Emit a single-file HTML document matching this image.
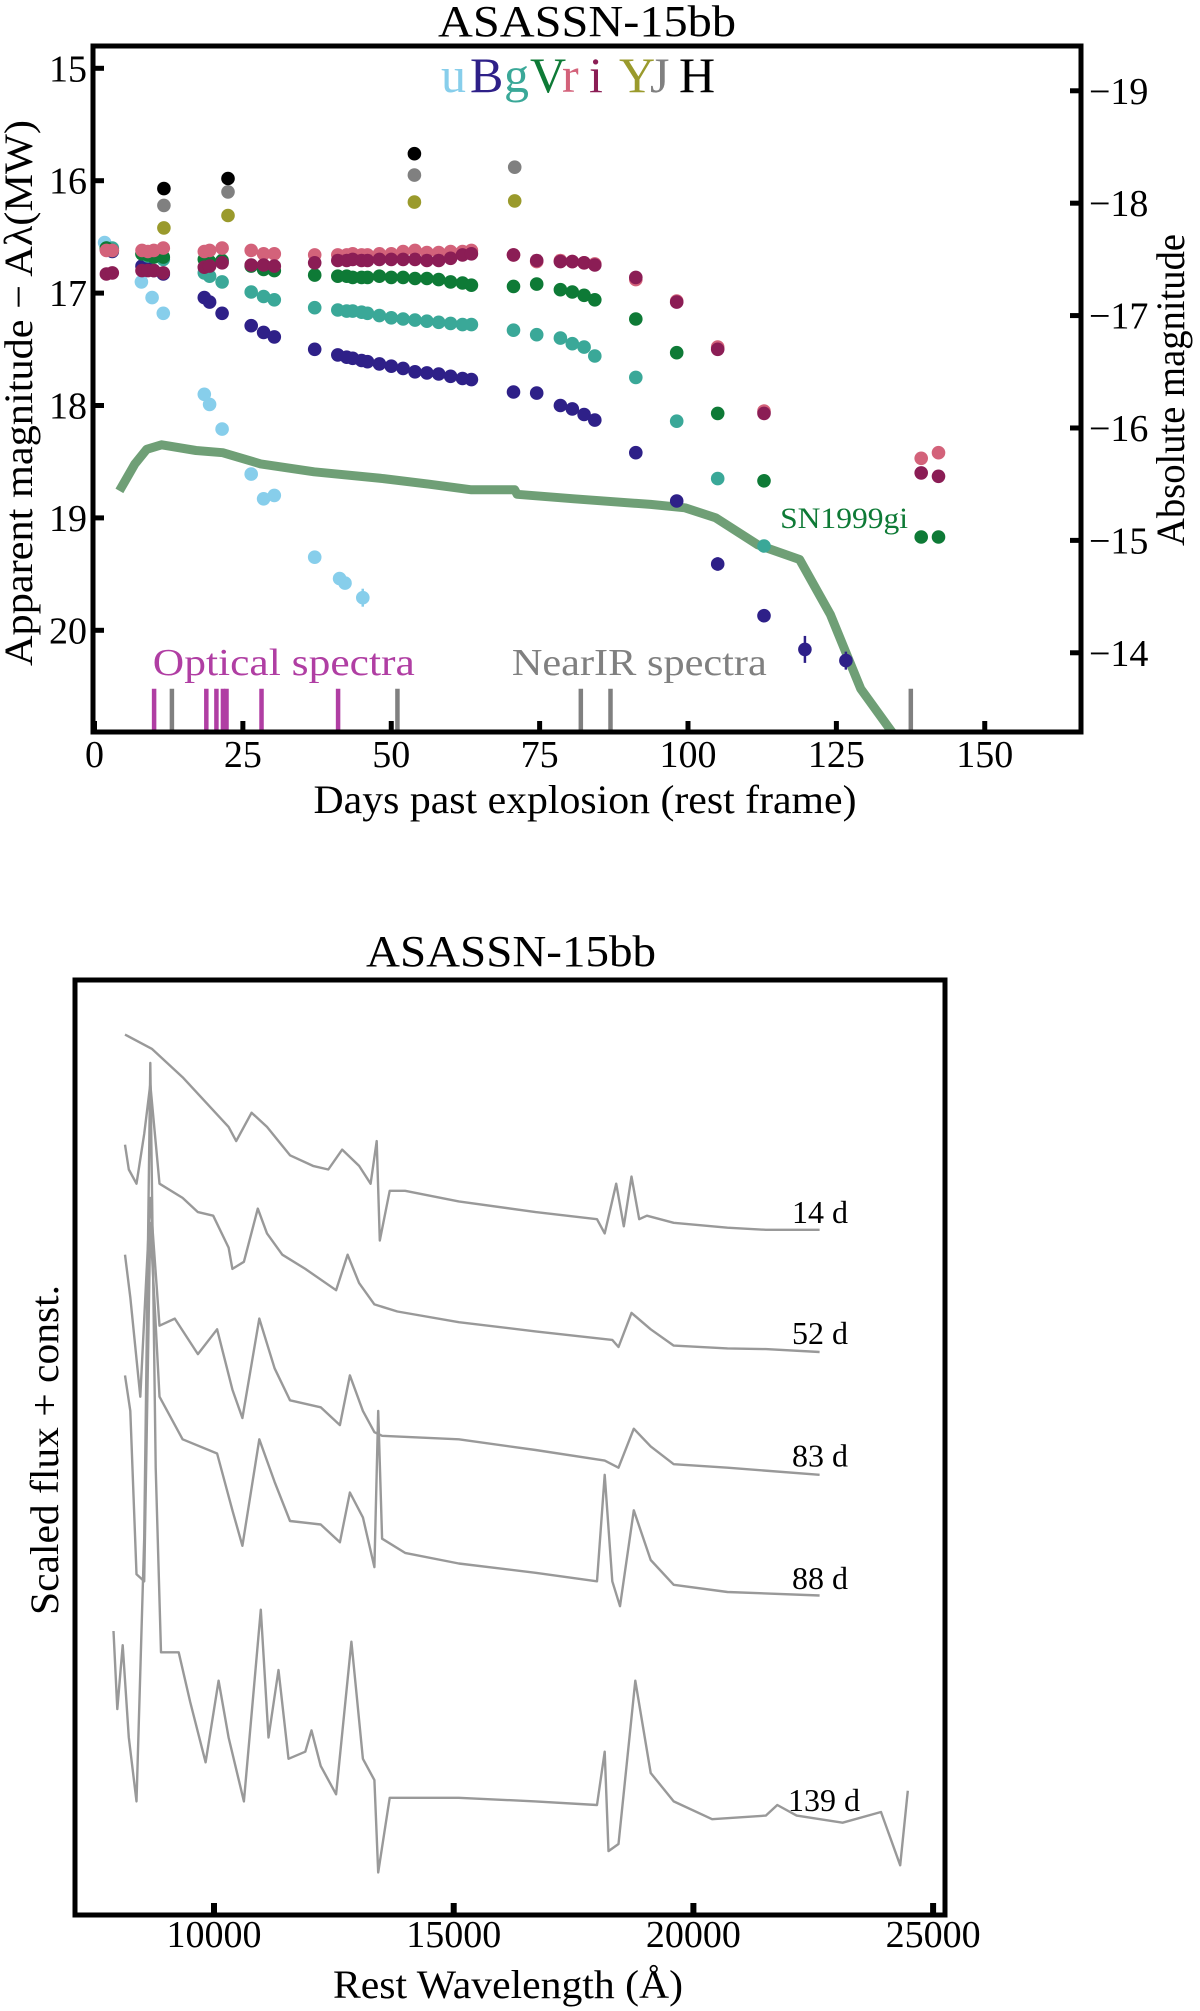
<!DOCTYPE html>
<html><head><meta charset="utf-8"><style>
html,body{margin:0;padding:0;background:#fff;}
svg{display:block;font-family:"Liberation Serif",serif;}
</style></head><body>
<svg id="fig" width="1200" height="2011" viewBox="0 0 1200 2011" xmlns="http://www.w3.org/2000/svg">
<g id="topPanel"></g>
<g id="botPanel"></g>
</svg>
<script>
// ---------- Light-curve data ----------
const commonDays = [2,3,8,9,10,11.6,18.5,19.4,21.5,26.4,28.5,30.3,37.1,41,42.5,43.5,45,46,48,50,52,54,56,58,60,62,63.5,70.6,74.5,78.5,80.5,82.5,84.3,91.2,98.1,105,112.8];
const uDays = [1.7,2.5,7.9,9.7,11.6,18.5,19.4,21.5,26.4,28.5,30.3,37.1,41.3,42.2,45.2];
const uMag = [16.55,16.6,16.9,17.04,17.18,17.9,17.99,18.21,18.61,18.83,18.8,19.35,19.54,19.58,19.71];
const bMag = [16.61,16.63,16.76,16.78,16.8,16.83,17.04,17.08,17.18,17.29,17.35,17.39,17.5,17.55,17.57,17.58,17.6,17.61,17.63,17.65,17.67,17.7,17.71,17.72,17.74,17.76,17.77,17.88,17.89,18.0,18.03,18.08,18.13,18.42,18.85,19.41,19.87];
const bLateDays = [119.7,126.6];
const bLateMag = [20.17,20.27];
const gMag = [16.6,16.6,16.65,16.67,16.68,16.7,16.82,16.85,16.9,16.99,17.03,17.06,17.13,17.15,17.16,17.16,17.17,17.18,17.2,17.22,17.23,17.24,17.25,17.26,17.27,17.28,17.28,17.33,17.37,17.4,17.45,17.48,17.56,17.75,18.14,18.65,19.25];
const vMag = [16.6,16.62,16.65,16.66,16.68,16.68,16.7,16.72,16.71,16.76,16.79,16.8,16.84,16.85,16.85,16.86,16.86,16.86,16.85,16.86,16.86,16.87,16.87,16.88,16.9,16.91,16.93,16.94,16.92,16.97,16.99,17.02,17.06,17.23,17.53,18.07,18.67];
const rMag = [16.62,16.62,16.62,16.63,16.62,16.6,16.63,16.62,16.6,16.62,16.65,16.65,16.66,16.66,16.66,16.65,16.66,16.66,16.65,16.65,16.63,16.62,16.64,16.64,16.63,16.63,16.62,16.66,16.72,16.71,16.72,16.73,16.74,16.88,17.07,17.48,18.05];
const iMag = [16.83,16.82,16.8,16.8,16.8,16.82,16.77,16.76,16.73,16.75,16.75,16.76,16.73,16.71,16.71,16.7,16.71,16.71,16.7,16.7,16.7,16.7,16.71,16.71,16.69,16.66,16.65,16.66,16.71,16.72,16.72,16.73,16.75,16.86,17.08,17.5,18.07];
const lateDays = [139.3,142.2];
const vLate = [19.17,19.17];
const rLate = [18.47,18.42];
const iLate = [18.6,18.63];
const nirDays = [11.7,22.5,53.9,70.8];
const yMag = [16.42,16.31,16.19,16.18];
const jMag = [16.22,16.1,15.95,15.88];
const hDays = [11.7,22.5,53.9];
const hMag = [16.07,15.98,15.76];
const tmplDays = [4.2,6.8,8.8,11.3,17.1,21.6,28,37,48.7,56.4,63.5,70.8,71.2,80.8,93.7,99.5,104.7,111.8,118.8,124,129.1,134.3,136];
const tmplMag = [18.76,18.52,18.39,18.35,18.40,18.42,18.52,18.59,18.65,18.70,18.75,18.75,18.79,18.83,18.88,18.91,19.0,19.24,19.37,19.86,20.52,20.9,21.0];
const optSpecDays = [10,18.8,20.5,21.6,22.2,28.1,41];
const nirSpecDays = [13,51,81.9,86.9,137.5];
const xTicks = [0,25,50,75,100,125,150];
const yTicks = [15,16,17,18,19,20];
const absTicks = [-19,-18,-17,-16,-15,-14];
const distMod = 34.2;

// ---------- Spectra data ----------
const specLabels = ["14 d","52 d","83 d","88 d","139 d"];
const w14 = [8143,8703,9344,9824,10304,10464,10785,11105,11585,12065,12385,12674,13026,13266,13394,13458,13666,13986,15107,16708,17989,18149,18389,18549,18709,18870,19030,19590,20711,21511,22632];
const f14 = [12.4,12.2,11.8,11.45,11.1,10.9,11.3,11.1,10.7,10.55,10.5,10.78,10.55,10.3,10.9,9.5,10.2,10.2,10.05,9.9,9.8,9.6,10.3,9.7,10.4,9.8,9.85,9.75,9.68,9.65,9.65];
const w52 = [8143,8223,8383,8543,8671,8863,9344,9664,9984,10304,10384,10624,10913,11105,11425,11905,12546,12786,13026,13346,13826,15107,16708,18309,18437,18709,19110,19590,20711,21511,22632];
const f52 = [10.85,10.5,10.3,11.0,11.7,10.3,10.1,9.9,9.85,9.4,9.1,9.2,9.95,9.6,9.3,9.1,8.8,9.3,8.9,8.6,8.5,8.35,8.22,8.1,8.0,8.48,8.25,8.02,7.98,7.97,7.93];
const w83 = [8143,8255,8463,8671,8863,9183,9664,10064,10384,10592,10945,11265,11585,12225,12626,12834,13106,13346,13506,15107,16708,18149,18437,18757,19110,19590,20711,22632];
const f83 = [9.3,8.7,7.3,10.1,8.3,8.4,7.9,8.25,7.4,7.0,8.4,7.7,7.25,7.15,6.9,7.6,7.1,6.8,6.75,6.7,6.55,6.4,6.3,6.85,6.6,6.35,6.3,6.2];
const w88 = [8143,8255,8383,8543,8671,8863,9344,10064,10384,10592,10945,11265,11585,12225,12626,12834,13106,13346,13426,13506,13986,15107,16708,17989,18149,18309,18469,18757,19110,19590,20711,22632];
const f88 = [7.6,7.1,4.8,4.7,9.75,7.3,6.7,6.5,5.7,5.2,6.7,6.1,5.55,5.5,5.25,5.95,5.6,4.9,7.1,5.3,5.1,4.95,4.82,4.7,6.2,4.7,4.35,5.7,5.0,4.65,4.55,4.5];
const w139 = [7903,7983,8095,8223,8383,8543,8671,8783,8895,9264,9504,9824,10096,10304,10624,10977,11137,11345,11553,11905,12033,12225,12546,12866,13106,13346,13426,13666,13986,15107,16708,17989,18149,18229,18437,18789,19110,19590,20391,21511,21751,22152,23112,23913,24313,24473];
const f139 = [4.0,2.9,3.8,2.5,1.6,5.3,12.0,6.3,3.7,3.7,3.0,2.15,3.3,2.5,1.6,4.3,2.5,3.45,2.2,2.3,2.6,2.1,1.7,3.85,2.2,1.9,0.6,1.65,1.65,1.65,1.6,1.55,2.3,0.9,1.0,3.3,2.0,1.6,1.35,1.4,1.55,1.4,1.3,1.45,0.7,1.75];
const specLabelFlux = [9.9,8.2,6.47,4.75,1.62];
const wTicks = [10000,15000,20000,25000];

const NS = "http://www.w3.org/2000/svg";
function mk(parent, tag, attrs, text){
  const e = document.createElementNS(NS, tag);
  for (const k in attrs) e.setAttribute(k, attrs[k]);
  if ('textLength' in attrs) e.setAttribute('lengthAdjust','spacingAndGlyphs');
  if (text !== undefined) e.textContent = text;
  parent.appendChild(e);
  return e;
}

// ---------- Top panel ----------
(function(){
const topG = document.getElementById('topPanel');
const L=93, R=1081, T=46, B=732;
const xD = d => 94.5 + d*5.935;
const yM = m => 68.3 + (m-15)*112.4;

const clipT = mk(topG,'clipPath',{id:'clipT'});
mk(clipT,'rect',{x:L,y:T,width:R-L,height:B-T});

const tg = mk(topG,'g',{'clip-path':'url(#clipT)'});


const dstr = tmplDays.map((d,i)=>(i?'L':'M')+xD(d).toFixed(1)+','+yM(tmplMag[i]).toFixed(1)).join(' ');
const tl = mk(tg,'path',{d:dstr,fill:'none',stroke:'#3f7f48','stroke-width':9,'stroke-opacity':0.75,'stroke-linejoin':'round'});



function band(name, days, mags, color, errs){
  const g = mk(topG,'g',{fill:color});
  
  
  days.forEach((d,i)=>{
    if (errs && errs[i]) {
      mk(g,'line',{x1:xD(d),x2:xD(d),y1:yM(mags[i]-errs[i]),y2:yM(mags[i]+errs[i]),stroke:color,'stroke-width':2.5});
    }
    const c = mk(g,'circle',{cx:xD(d).toFixed(1),cy:yM(mags[i]).toFixed(1),r:6.8});
    
    
  });
}
band('u', uDays, uMag, '#87ceeb', [0,0,0,0,0,0,0,0,0,0,0,0,0,0,0.08]);
band('B', commonDays, bMag, '#2e2088', null);
band('B-late', bLateDays, bLateMag, '#2e2088', [0.12,0.08]);
band('g', commonDays, gMag, '#3aa898', null);
band('V', commonDays.concat(lateDays), vMag.concat(vLate), '#0e7a36', null);
band('r', commonDays.concat(lateDays), rMag.concat(rLate), '#d3627a', null);
band('i', commonDays.concat(lateDays), iMag.concat(iLate), '#8b1d55', null);
band('Y', nirDays, yMag, '#9a9a2c', null);
band('J', nirDays, jMag, '#808080', null);
band('H', hDays, hMag, '#000000', null);
(function(){const i=commonDays.indexOf(105);const x=xD(105);
 const e=mk(topG,'line',{x1:x,x2:x,y1:yM(bMag[i]-0.06),y2:yM(bMag[i]+0.06),stroke:'#2e2088','stroke-width':2.5});
 })();

optSpecDays.forEach(d=>{
  const r = mk(topG,'rect',{x:xD(d)-2,y:yM(20.52),width:4.5,height:B-yM(20.52),fill:'#b03ea3'});
  
  
});
nirSpecDays.forEach(d=>{
  const r = mk(topG,'rect',{x:xD(d)-2,y:yM(20.52),width:4.5,height:B-yM(20.52),fill:'#808080'});
  
  
});
const ol = mk(topG,'text',{x:xD(31.9),y:yM(20.29)+12,'font-size':38,fill:'#b03ea3','text-anchor':'middle',textLength:262},'Optical spectra');
 
const nl = mk(topG,'text',{x:xD(91.8),y:yM(20.29)+12,'font-size':38,fill:'#808080','text-anchor':'middle',textLength:255},'NearIR spectra');
 
const sl = mk(topG,'text',{x:xD(126.3),y:yM(19.0)+10,'font-size':30,fill:'#0e7a36','text-anchor':'middle',textLength:128},'SN1999gi');
 

const fr = mk(topG,'rect',{x:L,y:T,width:R-L,height:B-T,fill:'none',stroke:'#000','stroke-width':5});
 
xTicks.forEach(t=>{
  mk(topG,'line',{x1:xD(t),x2:xD(t),y1:B,y2:B-11,stroke:'#000','stroke-width':5});
  const tx = mk(topG,'text',{x:xD(t),y:767,'font-size':38,'text-anchor':'middle'},String(t));
   
});
yTicks.forEach(t=>{
  mk(topG,'line',{x1:L,x2:L+11,y1:yM(t),y2:yM(t),stroke:'#000','stroke-width':5});
  const tx = mk(topG,'text',{x:87,y:yM(t)+13,'font-size':38,'text-anchor':'end'},String(t));
   
});
absTicks.forEach(t=>{
  const y = yM(t+distMod);
  mk(topG,'line',{x1:R,x2:R-11,y1:y,y2:y,stroke:'#000','stroke-width':5});
  const tx = mk(topG,'text',{x:1089,y:y+13,'font-size':38,'text-anchor':'start'},'\u2212'+Math.abs(t));
   
});

function t(attrs,txt,name){const e=mk(topG,'text',attrs,txt);return e;}
t({x:587,y:36,'font-size':44,'text-anchor':'middle',textLength:298},'ASASSN-15bb','light-curve-title');
const leg=[['u',441,'#87ceeb'],['B',470,'#2e2088'],['g',504,'#3aa898'],['V',530,'#0e7a36'],['r',562,'#d3627a'],['i',589,'#8b1d55'],['Y',619,'#9a9a2c'],['J',650,'#808080'],['H',679,'#000']];
leg.forEach(l=>t({x:l[1],y:92,'font-size':50,fill:l[2]},l[0],'legend-entry-'+l[0]));
t({x:585,y:813,'font-size':40,'text-anchor':'middle',textLength:543},'Days past explosion (rest frame)','x-axis-title');
t({x:0,y:0,'font-size':40,'text-anchor':'middle',transform:'translate(32,393) rotate(-90)',textLength:546},'Apparent magnitude \u2212 A\u03bb(MW)','y-axis-title');
t({x:0,y:0,'font-size':40,'text-anchor':'middle',transform:'translate(1184,390) rotate(-90)',textLength:312},'Absolute magnitude','right-y-axis-title');
})();

// ---------- Bottom panel ----------
(function(){
const botG=document.getElementById('botPanel');
const L=75, R=945, T=980, B=1915;
const xW = w => 214 + (w-10000)/5000*239.7;
const yF = f => 1915 - f*71;
const specs=[[w14,f14],[w52,f52],[w83,f83],[w88,f88],[w139,f139]];
specs.forEach((s,k)=>{
  const d = s[0].map((w,i)=>(i?'L':'M')+xW(w).toFixed(1)+','+yF(s[1][i]).toFixed(1)).join(' ');
  const p = mk(botG,'path',{d:d,fill:'none',stroke:'#999','stroke-width':2.4,'stroke-linejoin':'round'});
  
  
  const lx = k===4 ? 788 : 792;
  const tx = mk(botG,'text',{x:lx,y:yF(specLabelFlux[k])+11,'font-size':32},specLabels[k]);
  
  
});
const fr = mk(botG,'rect',{x:L,y:T,width:R-L,height:B-T,fill:'none',stroke:'#000','stroke-width':5});
 
wTicks.forEach(w=>{
  mk(botG,'line',{x1:xW(w),x2:xW(w),y1:B,y2:B-12,stroke:'#000','stroke-width':6});
  const tx = mk(botG,'text',{x:xW(w),y:1947,'font-size':38,'text-anchor':'middle'},String(w));
   
});
function t(attrs,txt,name){const e=mk(botG,'text',attrs,txt);return e;}
t({x:511,y:966,'font-size':44,'text-anchor':'middle',textLength:290},'ASASSN-15bb','spectra-title');
t({x:508,y:1998,'font-size':40,'text-anchor':'middle',textLength:350},'Rest Wavelength (\u00c5)','wavelength-axis-title');
t({x:0,y:0,'font-size':40,'text-anchor':'middle',transform:'translate(58,1450) rotate(-90)',textLength:330},'Scaled flux + const.','flux-axis-title');
})();
</script>
</body></html>
